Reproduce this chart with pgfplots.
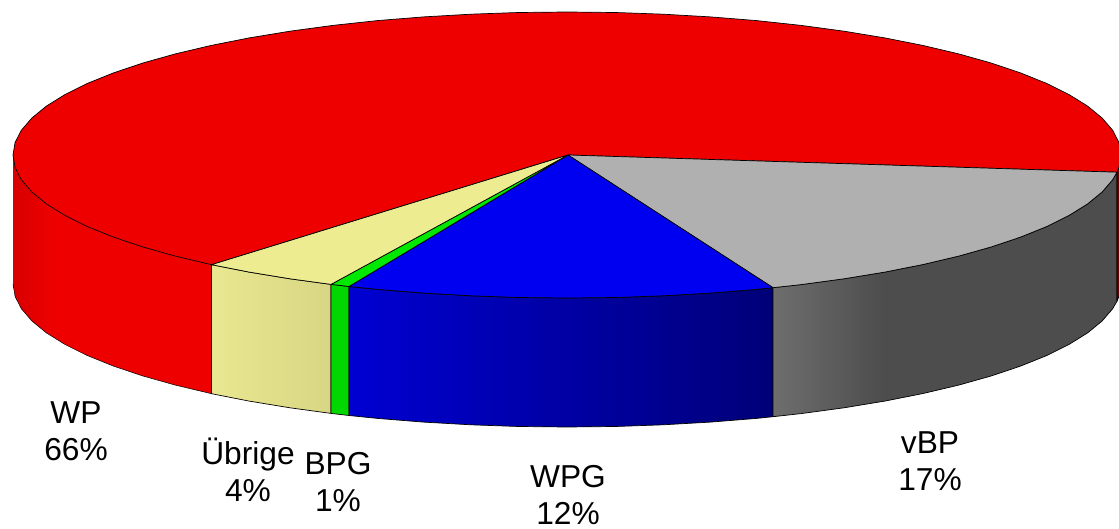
\documentclass[border=0pt]{standalone}
\usepackage{fontspec}
\setmainfont{Liberation Sans}
\usepackage{pgfplots}
\pgfplotsset{compat=1.18}
\definecolor{cred}{HTML}{EE0000}
\definecolor{cyel}{HTML}{EEEC90}
\definecolor{cgrn}{HTML}{00E800}
\definecolor{cblu}{HTML}{0000F0}
\definecolor{cgry}{HTML}{B0B0B0}
\definecolor{sgrn}{HTML}{00D800}
\definecolor{sdred}{HTML}{6A0000}
\definecolor{g1}{HTML}{6E6E6E}\definecolor{g2}{HTML}{4D4D4D}
\definecolor{b1}{HTML}{0000D2}\definecolor{b2}{HTML}{000078}
\definecolor{y1}{HTML}{E9E78F}\definecolor{y2}{HTML}{D8D684}
\definecolor{r1}{HTML}{D80000}
\pgfdeclarehorizontalshading{sgray}{100bp}{color(0bp)=(g1); color(25bp)=(g1); color(41bp)=(g2); color(100bp)=(g2)}
\pgfdeclarehorizontalshading{sblue}{100bp}{color(0bp)=(b1); color(25bp)=(b1); color(75bp)=(b2); color(100bp)=(b2)}
\pgfdeclarehorizontalshading{syel}{100bp}{color(0bp)=(y1); color(25bp)=(y1); color(75bp)=(y2); color(100bp)=(y2)}
\pgfdeclarehorizontalshading{sred}{100bp}{color(0bp)=(r1); color(25bp)=(r1); color(35bp)=(cred); color(100bp)=(cred)}
\newcommand{\lab}[3]{\node[align=center,font=\fontsize{31.7}{37.5}\selectfont,inner sep=0pt] at (axis cs:#1,#2) {#3};}
\begin{document}
\begin{tikzpicture}
\useasboundingbox (0,0) rectangle (1119pt,529pt);
\begin{axis}[
  at={(0,0)}, anchor=south west,
  scale only axis, width=1119pt, height=529pt,
  xmin=0, xmax=1119, ymin=0, ymax=529, y dir=reverse,
  hide axis, clip=true, no markers,
  every axis plot/.append style={line width=0.7pt, line join=round},
]
% side faces
\addplot[draw=none, shading=sred] coordinates {(211.5,264.7)(175.3,256.1)(142.6,246.9)(113.2,237)(87.2,226.5)(64.9,215.4)(46.4,203.9)(31.9,192)(21.4,179.8)(15.1,167.5)(13,155)(13,284)(15.1,296.5)(21.4,308.8)(31.9,321)(46.4,332.9)(64.9,344.4)(87.2,355.5)(113.2,366)(142.6,375.9)(175.3,385.1)(211.5,393.7)} -- cycle;
\addplot[draw=black, line width=0.5pt] coordinates {(13,284)(15.1,296.5)(21.4,308.8)(31.9,321)(46.4,332.9)(64.9,344.4)(87.2,355.5)(113.2,366)(142.6,375.9)(175.3,385.1)(211.5,393.7)};
\addplot[draw=black, shading=syel] coordinates {(211.5,264.7)(249.2,272.1)(290,278.8)(331,284.4)(331,413.4)(290,407.8)(249.2,401.1)(211.5,393.7)} -- cycle;
\addplot[draw=black, fill=sgrn] coordinates {(331,284.4)(349,286.5)(349,415.5)(331,413.4)} -- cycle;
\addplot[draw=black, shading=sblue] coordinates {(349,286.5)(377.5,289.4)(423.6,293.1)(470.8,295.8)(518.7,297.5)(567,298)(615.3,297.5)(663.2,295.8)(710.4,293.1)(756.5,289.4)(773,287.7)(773,416.7)(756.5,418.4)(710.4,422.1)(663.2,424.8)(615.3,426.5)(567,427)(518.7,426.5)(470.8,424.8)(423.6,422.1)(377.5,418.4)(349,415.5)} -- cycle;
\addplot[draw=black, shading=sgray] coordinates {(773,287.7)(801.1,284.6)(844,278.8)(884.8,272.1)(923.1,264.5)(958.7,256.1)(991.4,246.9)(1020.8,237)(1046.8,226.5)(1069.1,215.4)(1087.6,203.9)(1102.1,192)(1112.6,179.8)(1117,172.2)(1117,301.2)(1112.6,308.8)(1102.1,321)(1087.6,332.9)(1069.1,344.4)(1046.8,355.5)(1020.8,366)(991.4,375.9)(958.7,385.1)(923.1,393.5)(884.8,401.1)(844,407.8)(801.1,413.6)(773,416.7)} -- cycle;
\addplot[draw=black, fill=sdred] coordinates {(1117,172.2)(1118.9,167.5)(1121,155)(1121,284)(1118.9,296.5)(1117,301.2)} -- cycle;
% top faces
\addplot[draw=black, fill=cred] coordinates {(568,155)(1117,172.2)(1118.9,167.5)(1121,155)(1118.9,142.5)(1112.6,130.2)(1102.1,118)(1087.6,106.1)(1069.1,94.6)(1046.8,83.5)(1020.8,73)(991.4,63.1)(958.7,53.9)(923.1,45.5)(884.8,37.9)(844,31.2)(801.1,25.4)(756.5,20.6)(710.4,16.9)(663.2,14.2)(615.3,12.5)(567,12)(518.7,12.5)(470.8,14.2)(423.6,16.9)(377.5,20.6)(332.9,25.4)(290,31.2)(249.2,37.9)(210.9,45.5)(175.3,53.9)(142.6,63.1)(113.2,73)(87.2,83.5)(64.9,94.6)(46.4,106.1)(31.9,118)(21.4,130.2)(15.1,142.5)(13,155)(15.1,167.5)(21.4,179.8)(31.9,192)(46.4,203.9)(64.9,215.4)(87.2,226.5)(113.2,237)(142.6,246.9)(175.3,256.1)(211.5,264.7)} -- cycle;
\addplot[draw=black, fill=cgry] coordinates {(568,155)(1117,172.2)(1112.6,179.8)(1102.1,192)(1087.6,203.9)(1069.1,215.4)(1046.8,226.5)(1020.8,237)(991.4,246.9)(958.7,256.1)(923.1,264.5)(884.8,272.1)(844,278.8)(801.1,284.6)(773,287.7)} -- cycle;
\addplot[draw=black, fill=cblu] coordinates {(568,155)(773,287.7)(756.5,289.4)(710.4,293.1)(663.2,295.8)(615.3,297.5)(567,298)(518.7,297.5)(470.8,295.8)(423.6,293.1)(377.5,289.4)(349,286.5)} -- cycle;
\addplot[draw=black, fill=cgrn] coordinates {(568,155)(349,286.5)(331,284.4)} -- cycle;
\addplot[draw=black, fill=cyel] coordinates {(568,155)(331,284.4)(290,278.8)(249.2,272.1)(211.5,264.7)} -- cycle;
% labels
\lab{76}{431}{WP\\66\%}
\lab{248}{470}{Übrige\\4\%}
\lab{338}{482}{BPG\\1\%}
\lab{568}{495}{WPG\\12\%}
\lab{930}{461}{vBP\\17\%}
\end{axis}
\end{tikzpicture}
\end{document}
